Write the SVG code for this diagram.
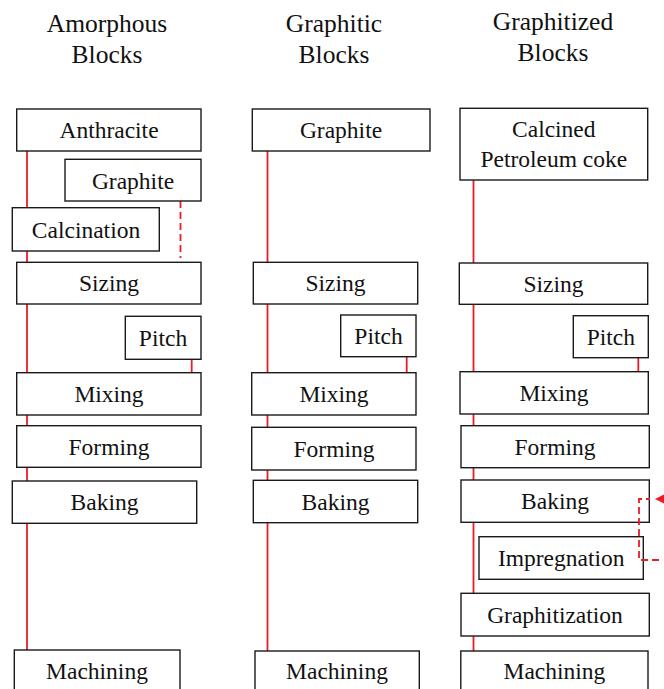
<svg xmlns="http://www.w3.org/2000/svg" width="664" height="689" viewBox="0 0 664 689">
<style>
  .box rect { fill: #ffffff; stroke: #1a1a1a; stroke-width: 1.4; }
  .box text, .hdr { font-family: "Liberation Serif", "Times New Roman", serif; fill: #111111; text-anchor: middle; }
  .box text { font-size: 23.5px; }
  .hdr { font-size: 25.5px; }
  .ln { stroke: #ec1c24; stroke-width: 1.8; fill: none; }
  .dash { stroke: #ec1c24; stroke-width: 1.8; fill: none; stroke-dasharray: 7 4; }
</style>
<rect width="664" height="689" fill="#ffffff"/>

<g id="headers">
  <text class="hdr" x="107" y="32">Amorphous</text>
  <text class="hdr" x="107" y="63">Blocks</text>
  <text class="hdr" x="334" y="32">Graphitic</text>
  <text class="hdr" x="334" y="63">Blocks</text>
  <text class="hdr" x="553" y="30">Graphitized</text>
  <text class="hdr" x="553" y="61">Blocks</text>
</g>

<g id="connectors">
  <line class="ln" x1="27" y1="151" x2="27" y2="651"/>
  <line class="dash" x1="180.5" y1="201" x2="180.5" y2="258"/>
  <line class="ln" x1="191.7" y1="359" x2="191.7" y2="373"/>
  <line class="ln" x1="267.5" y1="151" x2="267.5" y2="651"/>
  <line class="ln" x1="406.7" y1="357" x2="406.7" y2="373"/>
  <line class="ln" x1="473.5" y1="180" x2="473.5" y2="651"/>
  <line class="ln" x1="638.3" y1="358" x2="638.3" y2="372"/>
</g>

<g id="amorphous-anthracite" class="box"><rect x="16.7" y="109" width="184.3" height="42"/><text x="109" y="138.3">Anthracite</text></g>
<g id="amorphous-graphite" class="box"><rect x="65" y="159.3" width="136" height="41.7"/><text x="133" y="188.5">Graphite</text></g>
<g id="amorphous-calcination" class="box"><rect x="12.3" y="207.7" width="147" height="43.3"/><text x="86" y="237.5">Calcination</text></g>
<g id="amorphous-sizing" class="box"><rect x="16.7" y="262.3" width="184.3" height="41.7"/><text x="109" y="291.3">Sizing</text></g>
<g id="amorphous-pitch" class="box"><rect x="125.3" y="316.3" width="75.7" height="43"/><text x="163" y="345.5">Pitch</text></g>
<g id="amorphous-mixing" class="box"><rect x="16.7" y="372.7" width="184.3" height="42.3"/><text x="109" y="402">Mixing</text></g>
<g id="amorphous-forming" class="box"><rect x="16.7" y="425.7" width="184.3" height="41.6"/><text x="109" y="454.5">Forming</text></g>
<g id="amorphous-baking" class="box"><rect x="12.3" y="481" width="184.4" height="42.3"/><text x="104.5" y="510.3">Baking</text></g>
<g id="amorphous-machining" class="box"><rect x="14.3" y="650" width="165.7" height="44"/><text x="97" y="679.3">Machining</text></g>

<g id="graphitic-graphite" class="box"><rect x="252.3" y="109" width="177.7" height="42"/><text x="341" y="138.3">Graphite</text></g>
<g id="graphitic-sizing" class="box"><rect x="253.3" y="262.3" width="164.4" height="41.7"/><text x="335.5" y="291.3">Sizing</text></g>
<g id="graphitic-pitch" class="box"><rect x="340.7" y="315" width="75.3" height="41.7"/><text x="378.5" y="344">Pitch</text></g>
<g id="graphitic-mixing" class="box"><rect x="251.7" y="372.7" width="164.3" height="42.3"/><text x="334" y="402">Mixing</text></g>
<g id="graphitic-forming" class="box"><rect x="251.7" y="427.3" width="164.3" height="42.7"/><text x="334" y="456.8">Forming</text></g>
<g id="graphitic-baking" class="box"><rect x="253.3" y="480.3" width="164.4" height="42.4"/><text x="335.5" y="509.7">Baking</text></g>
<g id="graphitic-machining" class="box"><rect x="255" y="651" width="164.3" height="44"/><text x="337" y="679.3">Machining</text></g>

<g id="graphitized-calcined-petroleum-coke" class="box"><rect x="460" y="108.3" width="187.7" height="71.7"/><text x="553.8" y="136.7">Calcined</text><text x="553.8" y="166.7">Petroleum coke</text></g>
<g id="graphitized-sizing" class="box"><rect x="459.3" y="263" width="188.4" height="41.3"/><text x="553.5" y="292">Sizing</text></g>
<g id="graphitized-pitch" class="box"><rect x="573.3" y="315.7" width="75" height="42"/><text x="610.8" y="344.8">Pitch</text></g>
<g id="graphitized-mixing" class="box"><rect x="460" y="371.7" width="188.3" height="42.3"/><text x="554" y="401">Mixing</text></g>
<g id="graphitized-forming" class="box"><rect x="461" y="425.7" width="188.3" height="42"/><text x="555" y="454.8">Forming</text></g>
<g id="graphitized-baking" class="box"><rect x="461" y="480" width="188.3" height="42.3"/><text x="555" y="509.3">Baking</text></g>
<g id="graphitized-impregnation" class="box"><rect x="479" y="536.7" width="164.3" height="42.6"/><text x="561.2" y="566">Impregnation</text></g>
<g id="graphitized-graphitization" class="box"><rect x="461" y="593.3" width="188.3" height="42.7"/><text x="555" y="622.7">Graphitization</text></g>
<g id="graphitized-machining" class="box"><rect x="460.8" y="651" width="187.2" height="44"/><text x="554.4" y="679.3">Machining</text></g>

<g id="connectors-loop">
  <polyline class="dash" points="659,560 639,560 639,499 650,499"/>
  <polygon points="655,499 664,494.5 664,503.5" fill="#ec1c24"/>
</g>
</svg>
